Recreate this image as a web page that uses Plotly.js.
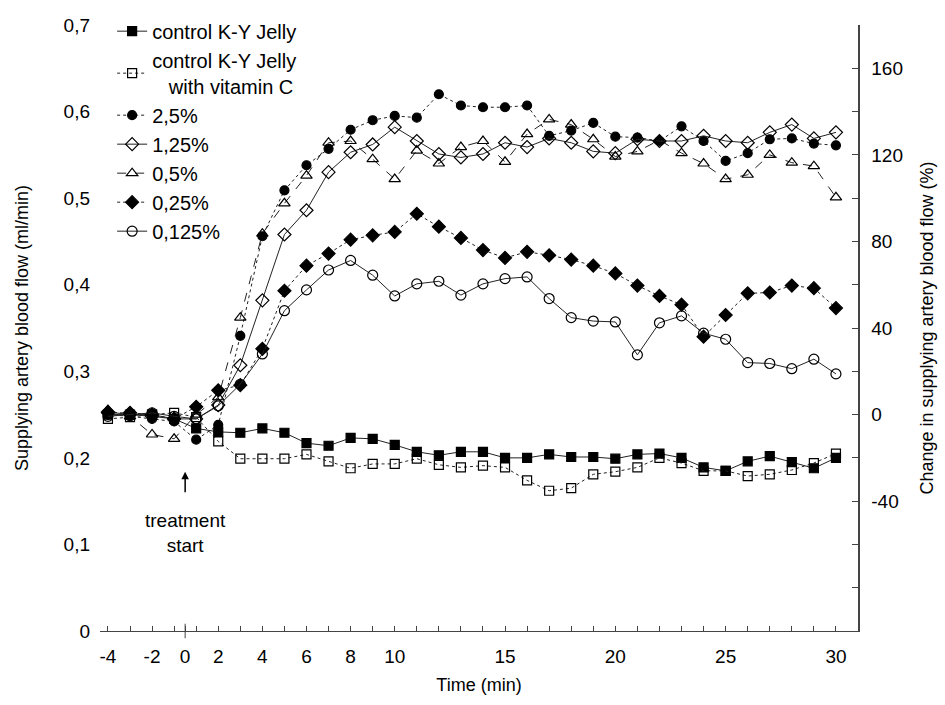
<!DOCTYPE html>
<html><head><meta charset="utf-8">
<script src="https://cdn.plot.ly/plotly-3.0.1.min.js"></script>
<style>html,body{margin:0;padding:0;background:#fff}#chart{width:945px;height:705px}</style>
</head><body><div id="chart"></div>
<script>
// Time points (min); the original axis is drawn with one slot per sample and treatment start (0) between -1 and 1
const times = [-4,-3,-2,-1,1,2,3,4,5,6,7,8,9,10,11,12,13,14,15,16,17,18,19,20,21,22,23,24,25,26,27,28,29,30];
const tickTimes = [-4,-2,0,2,4,6,8,10,15,20,25,30];
const tickLabels = ['-4','-2','0','2','4','6','8','10','15','20','25','30'];

const controlKY = [0.250,0.250,0.250,0.245,0.234,0.230,0.229,0.234,0.229,0.217,0.214,0.223,0.222,0.215,0.207,0.203,0.207,0.207,0.200,0.200,0.204,0.201,0.201,0.199,0.204,0.205,0.200,0.189,0.185,0.196,0.202,0.195,0.188,0.200];
const controlVitC = [0.245,0.247,0.250,0.252,0.247,0.219,0.199,0.199,0.199,0.204,0.196,0.188,0.193,0.193,0.199,0.192,0.189,0.191,0.189,0.174,0.162,0.165,0.181,0.184,0.189,0.200,0.194,0.185,0.185,0.179,0.181,0.186,0.194,0.205];
const conc2_5 = [0.250,0.248,0.245,0.242,0.221,0.238,0.341,0.456,0.509,0.538,0.557,0.579,0.590,0.595,0.593,0.620,0.607,0.605,0.605,0.607,0.572,0.578,0.587,0.571,0.570,0.566,0.583,0.566,0.543,0.552,0.568,0.569,0.563,0.561];
const conc1_25 = [0.253,0.250,0.248,0.245,0.245,0.261,0.307,0.382,0.458,0.486,0.530,0.553,0.562,0.582,0.566,0.551,0.547,0.551,0.564,0.559,0.569,0.564,0.554,0.552,0.568,0.566,0.566,0.572,0.566,0.564,0.576,0.585,0.569,0.576];
const conc0_5 = [0.255,0.248,0.227,0.222,0.250,0.270,0.362,0.459,0.494,0.526,0.564,0.566,0.545,0.522,0.555,0.540,0.559,0.566,0.542,0.574,0.591,0.585,0.568,0.548,0.554,0.567,0.552,0.540,0.522,0.527,0.550,0.541,0.537,0.501];
const conc0_25 = [0.252,0.252,0.250,0.245,0.259,0.278,0.284,0.326,0.393,0.422,0.436,0.452,0.457,0.461,0.482,0.467,0.454,0.440,0.431,0.438,0.434,0.429,0.422,0.413,0.399,0.387,0.377,0.340,0.365,0.390,0.391,0.399,0.396,0.373];
const conc0_125 = [0.248,0.250,0.252,0.248,0.245,0.260,0.285,0.320,0.370,0.394,0.417,0.428,0.411,0.387,0.401,0.404,0.388,0.401,0.407,0.409,0.384,0.362,0.358,0.357,0.319,0.356,0.364,0.344,0.337,0.310,0.309,0.303,0.314,0.297];

const seriesNames = ['control K-Y Jelly','control K-Y Jelly<br>\u00a0\u00a0\u00a0with vitamin C','2,5%','1,25%','0,5%','0,25%','0,125%'];
const baseline = 0.25; // ml/min corresponding to 0 % change on right axis
const rightTicks = [-80,-60,-40,-20,0,20,40,60,80,100,120,140,160,180];

// slot position of a time on the sample axis
function slot(t){ return t < 0 ? t + 4 : (t === 0 ? 3.5 : t + 3); }
const xs = times.map(slot);

const lineCol = '#222';
const styles = [
  {sym:'square', dash:'solid'},
  {sym:'square-open', dash:'dot'},
  {sym:'circle', dash:'dot'},
  {sym:'diamond-open', dash:'solid'},
  {sym:'triangle-up-open', dash:'dash'},
  {sym:'diamond', dash:'dot'},
  {sym:'circle-open', dash:'solid'}
];
const allY = [controlKY, controlVitC, conc2_5, conc1_25, conc0_5, conc0_25, conc0_125];
const sizes = [9,9,9,10,10,10,10];

const traces = allY.map((ys,i)=>({
  type:'scatter', mode:'lines+markers', x: xs, y: ys, name: seriesNames[i],
  line:{color:lineCol, width:1, dash:styles[i].dash},
  marker:{symbol:styles[i].sym, size:sizes[i], color:'#000', line:{color:'#000', width:1.2}},
  xaxis:'x', yaxis:'y'
}));
traces.push({type:'scatter', mode:'none', x:[xs[0], xs[xs.length-1]], y:[(0/baseline-1)*100,(0.7/baseline-1)*100], yaxis:'y2', showlegend:false, hoverinfo:'skip'});

const tv = xs.concat([slot(0)]);
const tt = tv.map(v=>{ const k = tickTimes.findIndex(t=>slot(t)===v); return k>=0 ? tickLabels[k] : ''; });

const font = {family:'Liberation Sans, Arial, sans-serif', color:'#000'};
const layout = {
  width:945, height:705,
  margin:{l:100, r:87, t:20, b:74},
  paper_bgcolor:'#fff', plot_bgcolor:'#fff',
  separators:', ',
  showlegend:true,
  font:Object.assign({size:19}, font),
  xaxis:{
    range:[-0.36, 34.0], tickmode:'array', tickvals:tv, ticktext:tt,
    ticks:'inside', ticklen:5, tickcolor:'#444', showline:true, linecolor:'#444', linewidth:1.2,
    showgrid:false, zeroline:false, tickfont:Object.assign({size:19},font), ticklabelstandoff:8,
    title:{text:'Time (min)', font:Object.assign({size:18},font), standoff:12}
  },
  yaxis:{
    range:[0,0.7], tickmode:'array', tickvals:[0,0.1,0.2,0.3,0.4,0.5,0.6,0.7],
    ticktext:['0','0,1','0,2','0,3','0,4','0,5','0,6','0,7'],
    ticks:'', showline:false, showgrid:false, zeroline:false,
    tickfont:Object.assign({size:19},font), ticklabelstandoff:9,
    title:{text:'Supplying artery blood flow (ml/min)', font:Object.assign({size:18},font), standoff:30}
  },
  yaxis2:{
    overlaying:'y', side:'right', range:[(0/baseline-1)*100,(0.7/baseline-1)*100],
    tickmode:'array', tickvals:rightTicks,
    ticktext:rightTicks.map(v=> (v%40===0 && v>=-40 && v<=160) ? String(v) : ''),
    ticks:'inside', ticklen:6, tickcolor:'#444', showline:true, linecolor:'#444', linewidth:1.5,
    showgrid:false, zeroline:false, tickfont:Object.assign({size:19},font), ticklabelstandoff:8,
    title:{text:'Change in supplying artery blood flow (%)', font:Object.assign({size:18},font), standoff:18}
  },
  legend:{x:0.016, y:1.022, xanchor:'left', yanchor:'top', bgcolor:'rgba(0,0,0,0)',
    font:Object.assign({size:20},font), tracegroupgap:0, itemwidth:30},
  shapes:[
    {type:'line', xref:'x', yref:'paper', x0:slot(0), x1:slot(0), y0:-0.012, y1:0.012, line:{color:'#444', width:1}}
  ],
  annotations:[
    {x:slot(0), y:0.184, xref:'x', yref:'y', text:'', showarrow:true, ax:0, ay:22, axref:'pixel', ayref:'pixel',
     arrowhead:2, arrowsize:1, arrowwidth:1.5, arrowcolor:'#000'},
    {x:slot(0), y:0.113, xref:'x', yref:'y', text:'treatment<br>start', showarrow:false,
     font:Object.assign({size:19},font), align:'center'}
  ]
};
Plotly.newPlot('chart', traces, layout, {displayModeBar:false, staticPlot:true});
</script></body></html>
